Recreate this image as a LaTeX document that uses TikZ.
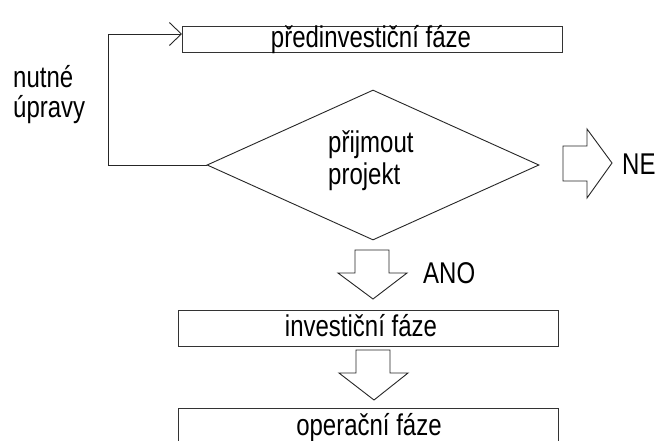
\documentclass[tikz,border=0pt]{standalone}
\usepackage{fontspec}
\setmainfont[FakeStretch=0.80]{Liberation Sans}
\usetikzlibrary{arrows.meta,shapes.geometric}

\tikzset{
  phasebox/.style={draw=black!80, line width=1pt, fill=white, inner sep=0pt, anchor=north west},
  label/.style={inner sep=0pt, anchor=base west, font=\fontsize{30}{32}\selectfont, align=left},
  flowline/.style={draw=black!85, line width=0.9pt},
  blockarrow/.style={draw=black!85, line width=0.9pt, fill=white, line join=miter},
}

\begin{document}
\begin{tikzpicture}[x=1pt, y=-1pt]
  \useasboundingbox (0,0) rectangle (659,440);
  \clip (0,0) rectangle (659,440);
  \fill[white] (0,0) rectangle (659,440);

  % phase boxes
  \node[phasebox, minimum width=380pt, minimum height=26pt] (pre) at (182,26) {};
  \node[phasebox, minimum width=380pt, minimum height=36pt] (inv) at (178,310) {};
  \node[phasebox, minimum width=380pt, minimum height=40pt] (op)  at (178,408) {};

  % decision diamond
  \node[draw=black!85, line width=0.9pt, diamond, inner sep=0pt,
        minimum width=332pt, minimum height=150pt] (dec) at (373,165) {};

  % texts
  \node[label, anchor=base] (tpre) at (371,47) {předinvestiční fáze};
  \node[label, anchor=base] (tinv) at (361,336) {investiční fáze};
  \node[label, anchor=base] (top)  at (369,435) {operační fáze};
  \node[label] (tdec1) at (328,152) {přijmout};
  \node[label] (tdec2) at (328,184) {projekt};
  \node[label] (tfix1) at (13,87) {nutné};
  \node[label] (tfix2) at (13,117) {úpravy};
  \node[label] (tano) at (423,283) {ANO};
  \node[label] (tne)  at (622,174) {NE};

  % feedback loop back to the pre-investment phase
  \coordinate (c1) at (108,165);
  \coordinate (c2) at (108,34);
  \draw[flowline, -{Straight Barb[length=12pt, width=23pt]}]
    (dec.west) -- (c1) -- (c2) -- (pre.west |- c2);

  % block arrows
  \draw[blockarrow] (563,146) -- (587,146) -- (587,129) -- (612,163)
    -- (587,198) -- (587,181) -- (563,181) -- cycle;
  \draw[blockarrow] (355,250) -- (389,250) -- (389,273) -- (407,273)
    -- (373,299) -- (338,273) -- (355,273) -- cycle;
  \draw[blockarrow] (356,350) -- (390,350) -- (390,373) -- (408,373)
    -- (374,400) -- (339,373) -- (356,373) -- cycle;
\end{tikzpicture}
\end{document}
